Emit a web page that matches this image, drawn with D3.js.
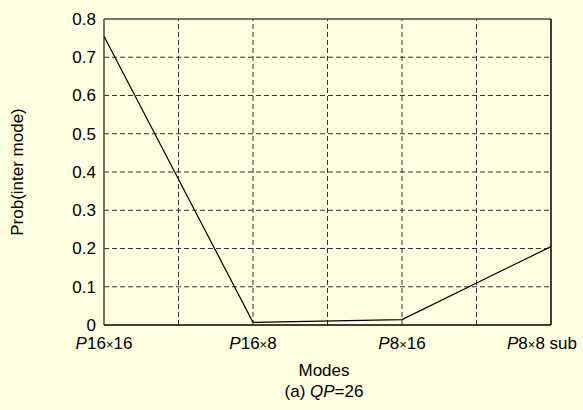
<!DOCTYPE html>
<html><head><meta charset="utf-8">
<script src="https://cdn.jsdelivr.net/npm/d3@7"></script>
<style>
html,body{margin:0;padding:0;background:#FEFEE1;}
svg{display:block;font-family:"Liberation Sans",Arial,sans-serif;}
</style></head>
<body>
<script>
const categories = ["P16×16","P16×8","P8×16","P8×8 sub"];
const categoryPos = [0,2,4,6];
const values = [0.755,0.007,0.014,0.205];
const yTicks = [0,0.1,0.2,0.3,0.4,0.5,0.6,0.7,0.8];
const xGrid = [1,2,3,4,5];

const W=583,H=410;
const m={left:104,top:19,right:32,bottom:85};
const svg=d3.select("body").append("svg").attr("width",W).attr("height",H);
const x=d3.scaleLinear().domain([0,6]).range([m.left,W-m.right]);
const y=d3.scaleLinear().domain([0,0.8]).range([H-m.bottom,m.top]);
const FS=17;

// grid
const g=svg.append("g");
g.selectAll("line.hg").data(yTicks.slice(1,-1)).join("line")
 .attr("x1",x(0)).attr("x2",x(6)).attr("y1",d=>y(d)).attr("y2",d=>y(d))
 .attr("stroke","#333").attr("stroke-width",1).attr("stroke-dasharray","5,3");
g.selectAll("line.vg").data(xGrid).join("line")
 .attr("x1",d=>x(d)).attr("x2",d=>x(d)).attr("y1",y(0)).attr("y2",y(0.8))
 .attr("stroke","#333").attr("stroke-width",1).attr("stroke-dasharray","5,3");

// frame
svg.append("line").attr("x1",x(0)).attr("x2",x(6)).attr("y1",y(0.8)).attr("y2",y(0.8)).attr("stroke","#4a4a40").attr("stroke-width",1.5);
svg.append("line").attr("x1",x(0)).attr("x2",x(0)).attr("y1",y(0.8)).attr("y2",y(0)).attr("stroke","#4a4a40").attr("stroke-width",1.5);
svg.append("line").attr("x1",x(6)).attr("x2",x(6)).attr("y1",y(0.8)).attr("y2",y(0)).attr("stroke","#000").attr("stroke-width",1.5);
svg.append("line").attr("x1",x(0)).attr("x2",x(6)).attr("y1",y(0)).attr("y2",y(0)).attr("stroke","#000").attr("stroke-width",1.5);

// y axis labels
const yAxis=d3.axisLeft(y).tickValues(yTicks).tickFormat(d=>d===0?"0":d3.format(".1f")(d)).tickSize(0).tickPadding(8);
const ya=svg.append("g").attr("transform",`translate(${x(0)},0)`).call(yAxis);
ya.attr("font-size",FS).attr("font-family","Liberation Sans, Arial, sans-serif");
ya.select(".domain").remove();
ya.selectAll("text").attr("fill","#000");

// x labels
const xl=svg.append("g");
categories.forEach((c,i)=>{
  const t=xl.append("text").attr("x",x(categoryPos[i])).attr("y",y(0)+24).attr("text-anchor","middle").attr("font-size",FS).attr("fill","#000");
  const parts=c.match(/^P(\d+)×(.*)$/);
  t.append("tspan").attr("font-style","italic").text("P");
  t.append("tspan").text(parts[1]);
  t.append("tspan").attr("font-size",13).text("×");
  t.append("tspan").text(parts[2]);
  const bb=t.node().getBBox();
  const maxRight=W-6;
  if(bb.x+bb.width>maxRight){
    t.attr("x",x(categoryPos[i])-(bb.x+bb.width-maxRight));
  }
});

// line
const line=d3.line().x((d,i)=>x(categoryPos[i])).y(d=>y(d));
svg.append("path").datum(values).attr("d",line).attr("fill","none").attr("stroke","#000").attr("stroke-width",1.2);

// titles
svg.append("text").attr("x",324).attr("y",376).attr("text-anchor","middle").attr("font-size",FS).text("Modes");
const cap=svg.append("text").attr("x",324).attr("y",397).attr("text-anchor","middle").attr("font-size",FS);
cap.append("tspan").text("(a) ");
cap.append("tspan").attr("font-style","italic").text("QP");
cap.append("tspan").text("=26");
svg.append("text").attr("transform","translate(23,172) rotate(-90)").attr("text-anchor","middle").attr("font-size",FS).text("Prob(inter mode)");
</script>
</body></html>
